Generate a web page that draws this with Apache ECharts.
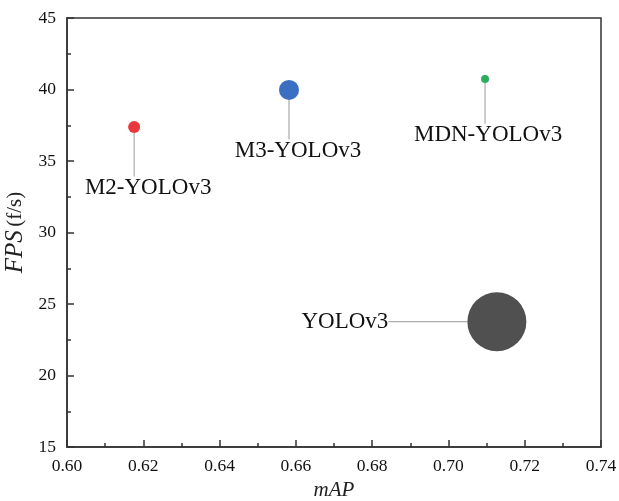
<!DOCTYPE html>
<html><head><meta charset="utf-8">
<script src="https://cdn.jsdelivr.net/npm/echarts@6/dist/echarts.min.js"></script>
<style>html,body{margin:0;padding:0;background:#fff}#c{width:619px;height:501px}</style>
</head><body><div id="c"></div>
<script>
const models = ['M2-YOLOv3', 'M3-YOLOv3', 'MDN-YOLOv3', 'YOLOv3'];
const mAP = [0.6176, 0.6582, 0.7096, 0.7127];
const fps = [37.38, 39.97, 40.73, 23.76];
const bubble = [12, 20, 8, 59];
const xTicks = [0.60, 0.74, 0.02];
const yTicks = [15, 45, 5];

const colors = ['#e8373d', '#3b6fc1', '#2eac5e', '#505050'];
// label placement: [dx, dy, text shift right of the leader line]
const placement = [[0, 61, 14], [0, 61, 9], [0, 56, 3], [-152, 0, 0]];
const font = 'Liberation Serif';

const chart = echarts.init(document.getElementById('c'));
chart.setOption({
  animation: false,
  grid: { left: 67, right: 18, top: 18, bottom: 54, outerBoundsMode: 'none', containLabel: false, show: true, borderColor: '#333', borderWidth: 1.5, backgroundColor: 'transparent' },
  xAxis: {
    type: 'value', min: xTicks[0], max: xTicks[1], interval: xTicks[2],
    name: 'mAP', nameLocation: 'middle', nameGap: 30,
    nameTextStyle: { fontFamily: font, fontStyle: 'italic', fontSize: 21, color: '#222' },
    axisLine: { show: true, lineStyle: { color: '#333', width: 1.5 } },
    axisTick: { show: true, inside: true, length: 7, lineStyle: { color: '#333', width: 1.5 } },
    minorTick: { show: true, splitNumber: 2, length: 4, lineStyle: { color: '#333', width: 1.5 } },
    axisLabel: { fontFamily: font, fontSize: 17.5, color: '#111', margin: 10, formatter: v => v.toFixed(2) },
    splitLine: { show: false }
  },
  yAxis: {
    type: 'value', min: yTicks[0], max: yTicks[1], interval: yTicks[2],
    name: '{i|FPS} {n|(f/s)}', nameLocation: 'middle', nameGap: 27,
    nameTextStyle: { rich: {
      i: { fontFamily: font, fontStyle: 'italic', fontSize: 25, color: '#222' },
      n: { fontFamily: font, fontSize: 21, color: '#222' } } },
    axisLine: { show: true, lineStyle: { color: '#333', width: 1.5 } },
    axisTick: { show: true, inside: true, length: 7, lineStyle: { color: '#333', width: 1.5 } },
    minorTick: { show: true, splitNumber: 2, length: 4, lineStyle: { color: '#333', width: 1.5 } },
    axisLabel: { fontFamily: font, fontSize: 17.5, color: '#111', margin: 11 },
    splitLine: { show: false }
  },
  series: [{
    type: 'scatter',
    data: models.map((m, i) => ({
      name: m, value: [mAP[i], fps[i], bubble[i]],
      itemStyle: { color: colors[i], opacity: 1 },
      label: { rich: { s: { width: placement[i][2] * 4 } } }
    })),
    symbolSize: v => v[2],
    label: {
      show: true, position: 'inside',
      formatter: p => (placement[p.dataIndex][2] ? '{s|}' : '') + '{t|' + p.name + '}',
      rich: { t: { fontFamily: font, fontSize: 23, color: '#111' } }
    },
    labelLayout: p => ({ dx: placement[p.dataIndex][0] - placement[p.dataIndex][2], dy: placement[p.dataIndex][1] }),
    labelLine: { show: true, lineStyle: { color: '#999', width: 1 } }
  }]
});
</script></body></html>
